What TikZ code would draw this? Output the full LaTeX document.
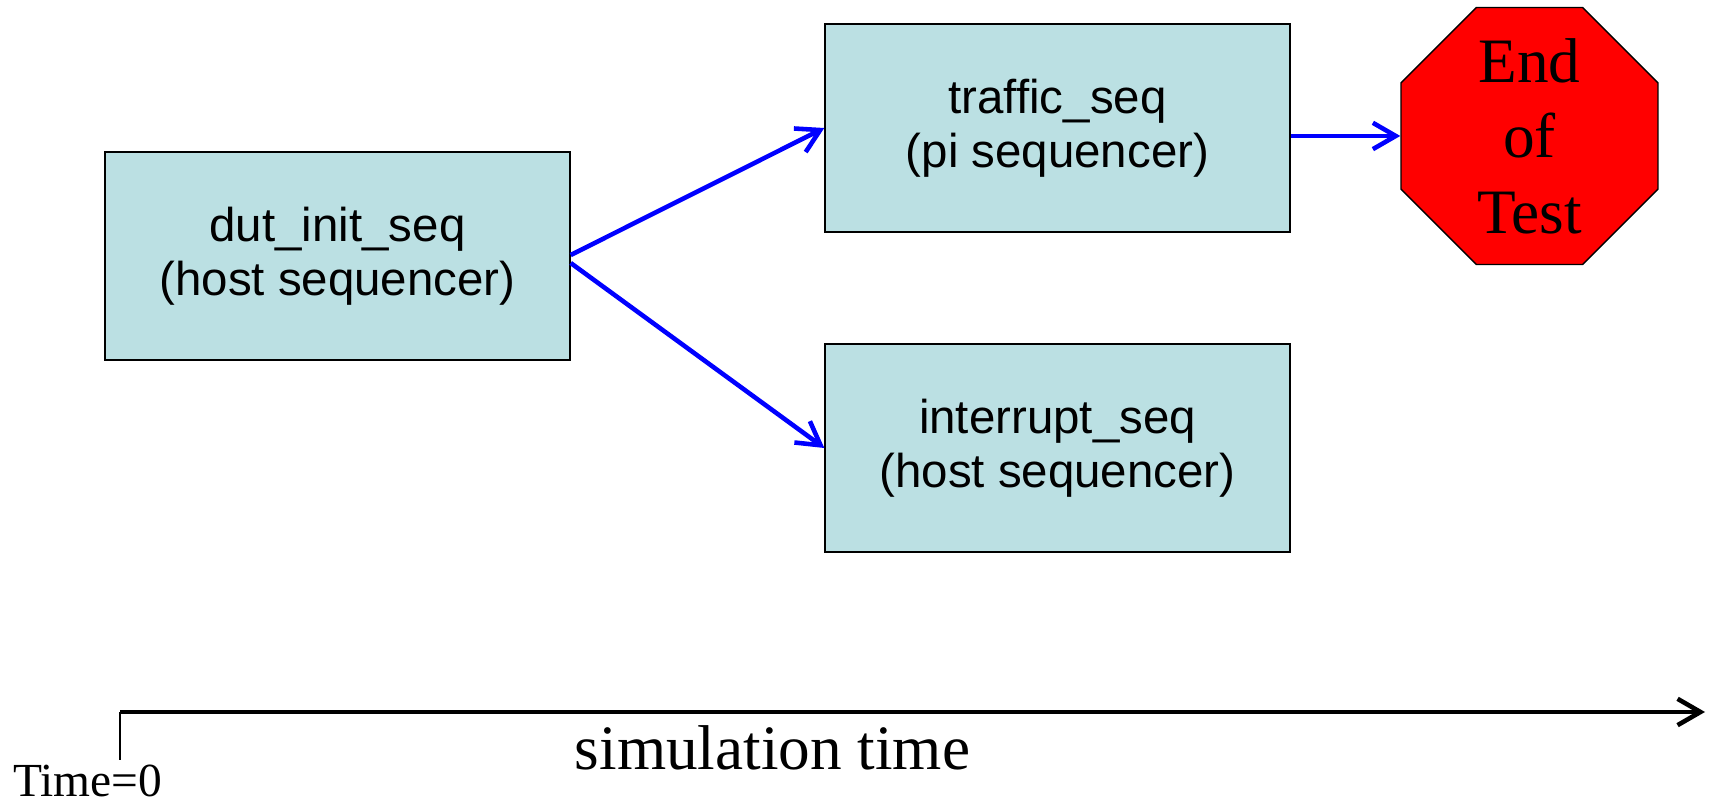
\documentclass[tikz,border=0pt]{standalone}
\usepackage{fontspec}
\setmainfont{Liberation Serif}
\newfontfamily\arialfont{Liberation Sans}
\usepackage{xcolor}
\usepackage{tikz}
\usetikzlibrary{shapes.geometric,arrows.meta,positioning}
\definecolor{SeqFill}{HTML}{BBE0E3}
\definecolor{StopRed}{HTML}{FF0000}
\definecolor{FlowBlue}{HTML}{0000FF}

\begin{document}
\begin{tikzpicture}[
    bx/.style={rectangle,draw=black,line width=0.8pt,fill=SeqFill,
               minimum width=9.3cm,minimum height=4.16cm,align=center,
               font=\arialfont\fontsize{27}{31}\selectfont},
    stopsign/.style={regular polygon,regular polygon sides=8,draw=black,
               line width=0.8pt,fill=StopRed,minimum size=5.563cm,inner sep=-2cm,
               align=center,font=\fontsize{36}{43}\selectfont},
    ar/.style={-{Straight Barb[length=13pt,width=15pt]},line width=2.6pt,FlowBlue},
    tm/.style={-{Straight Barb[length=13pt,width=15pt]},line width=2.6pt,black}]
\useasboundingbox (0,0) rectangle (34.22,16.16);
\node[bx] (dut) at (6.75,11.04) {dut\_init\_seq\\(host sequencer)};
\node[bx] (trf) at (21.15,13.6) {traffic\_seq\\(pi sequencer)};
\node[bx] (irq) at (21.15,7.2) {interrupt\_seq\\(host sequencer)};
\node[stopsign] (eot) at (30.59,13.44) {End\\of\\Test};
\draw[ar] ([yshift=0.02cm]dut.east) -- (trf.west);
\draw[ar] ([yshift=-0.14cm]dut.east) -- (irq.west);
\draw[ar] (trf.east |- eot.west) -- (eot.west);
% time axis
\coordinate (t0) at (2.40,1.92);
\coordinate (tend) at (34.10,1.92);
\coordinate (tbot) at (2.40,0.96);
\draw[line width=0.6pt] (tbot) -- (t0);
\draw[tm] (t0) -- (tend);
\node[anchor=base,font=\fontsize{36}{43}\selectfont,inner sep=0pt] (simt) at (15.45,0.77) {simulation time};
\node[anchor=base west,font=\fontsize{27}{31}\selectfont,inner sep=0pt] (time0) at (0.26,0.22) {Time=0};
\end{tikzpicture}
\end{document}
